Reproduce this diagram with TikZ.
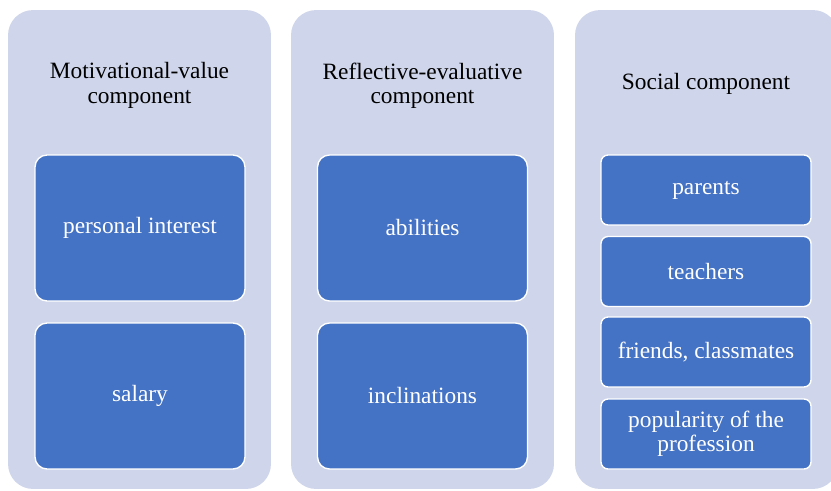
\documentclass[tikz,border=0pt]{standalone}
\usepackage{fontspec}
\setmainfont{Liberation Serif}

\begin{document}
\begin{tikzpicture}[x=0.02cm,y=-0.02cm,
	panel/.style={fill=panelgray,rounded corners=0.5cm,minimum width=5.26cm,minimum height=9.58cm,inner sep=0pt},
	heading/.style={align=center,text=black,font=\fontsize{13.3}{13.9}\selectfont},
	bigbox/.style={fill=boxblue,draw=white,line width=0.8pt,rounded corners=0.24cm,minimum width=4.2cm,minimum height=2.92cm,text=white,align=center,font=\fontsize{13.3}{13.9}\selectfont},
	smallbox/.style={bigbox,rounded corners=0.14cm,minimum height=1.4cm}]
			\definecolor{panelgray}{HTML}{CFD5EA}
			\definecolor{boxblue}{HTML}{4472C4}
			\useasboundingbox (0,0) rectangle (831,490);
			% panels
			\node[panel] (motivpanel) at (139.5,249.5) {};
			\node[panel] (reflpanel) at (422.5,249.5) {};
			\node[panel] (socpanel) at (706.5,249.5) {};
			% headings
			\node[heading] (motivhead) at (139.5,85.5) {Motivational-value\\component};
			\node[heading] (reflhead) at (422.5,85.5) {Reflective-evaluative\\component};
			\node[heading] (sochead) at (706,83.5) {Social component};
			% Motivational-value
			\node[bigbox] (interest) at (140,228) {personal interest};
			\node[bigbox] (salary) at (140,396) {salary};
			% Reflective-evaluative
			\node[bigbox] (abilities) at (422.5,228) {abilities};
			\node[bigbox] (inclinations) at (422.5,396) {inclinations};
			% Social
			\node[smallbox] (parents) at (706,190) {parents};
			\node[smallbox] (teachers) at (706,271.5) {teachers};
			\node[smallbox] (friends) at (706,352) {friends, classmates};
			\node[smallbox] (popularity) at (706,434) {popularity of the\\profession};
			\end{tikzpicture}
\end{document}
